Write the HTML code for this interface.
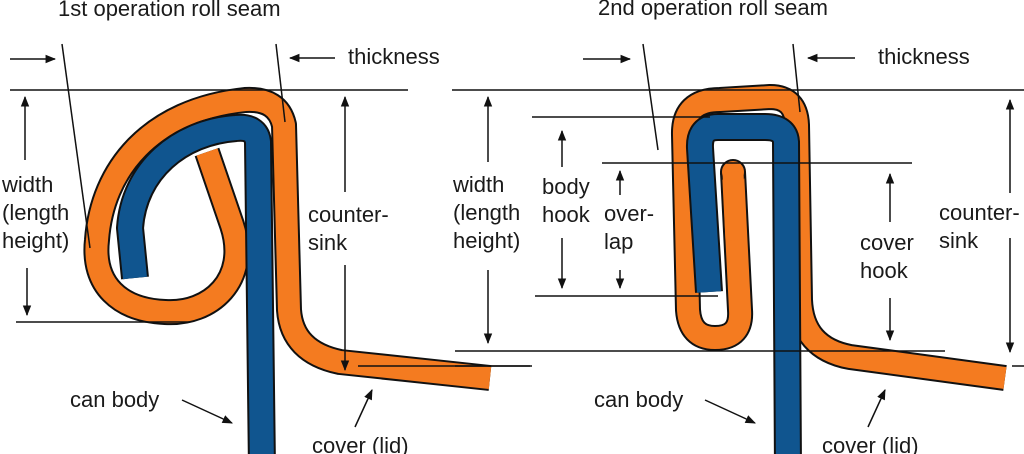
<!DOCTYPE html>
<html><head><meta charset="utf-8"><style>
html,body{margin:0;padding:0;background:#fff;}
svg{display:block}
text{font-family:"Liberation Sans",sans-serif;font-size:22px;fill:#1a1a1a}
</style></head><body>
<svg width="1024" height="454" viewBox="0 0 1024 454" xmlns="http://www.w3.org/2000/svg">
<defs>
<marker id="a" viewBox="0 0 10 10" refX="9" refY="5" markerWidth="7" markerHeight="7" orient="auto"><path d="M0,1 L10,5 L0,9 z" fill="#111"/></marker>
</defs>
<rect width="1024" height="454" fill="#fff"/>
<!-- LEFT seam -->
<g fill="none" stroke-linejoin="round">
<path d="M207,152 L232,225 C250,280 210,315 165,312 C120,310 92,285 97,240 C102,170 150,110 245,100 Q278,98 284,125 L289,310 Q292,352 340,362 L490,378" stroke="#111" stroke-width="26"/>
<path d="M207,152 L232,225 C250,280 210,315 165,312 C120,310 92,285 97,240 C102,170 150,110 245,100 Q278,98 284,125 L289,310 Q292,352 340,362 L490,378" stroke="#f47b20" stroke-width="22"/>
<path d="M262,470 L258,142 Q256,126 236,128 C180,132 134,170 130,228 L135,278" stroke="#111" stroke-width="28"/>
<path d="M262,470 L258,142 Q256,126 236,128 C180,132 134,170 130,228 L135,278" stroke="#10558f" stroke-width="24"/>
</g>
<!-- RIGHT seam -->
<g fill="none" stroke-linejoin="round">
<path d="M733,172 L740,310 Q742,338 715,338 Q690,338 688,310 L684,135 Q683,100 720,100 L770,97 Q796,97 797,125 L800,300 Q802,348 850,357 L1005,378" stroke="#111" stroke-width="26"/>
<path d="M733,172 L740,310 Q742,338 715,338 Q690,338 688,310 L684,135 Q683,100 720,100 L770,97 Q796,97 797,125 L800,300 Q802,348 850,357 L1005,378" stroke="#f47b20" stroke-width="22"/>
<circle cx="733" cy="172" r="12" fill="#f47b20" stroke="#111" stroke-width="2"/>
<path d="M733,172 L736,240" stroke="#f47b20" stroke-width="21"/>
<path d="M788,470 L786,142 Q785,127 765,127 L718,127 Q699,127 700,148 L709,292" stroke="#111" stroke-width="28"/>
<path d="M788,470 L786,142 Q785,127 765,127 L718,127 Q699,127 700,148 L709,292" stroke="#10558f" stroke-width="24"/>
</g>
<!-- lines -->
<g stroke="#111" stroke-width="1.5" fill="none">
<line x1="10" y1="90" x2="408" y2="90"/>
<line x1="16" y1="322" x2="190" y2="322"/>
<line x1="62" y1="44" x2="90" y2="248"/>
<line x1="276" y1="44" x2="285" y2="122"/>
<line x1="358" y1="366" x2="530" y2="366"/>
<line x1="10" y1="59" x2="55" y2="59" marker-end="url(#a)"/>
<line x1="335" y1="58" x2="290" y2="58" marker-end="url(#a)"/>
<line x1="25" y1="160" x2="25" y2="97" marker-end="url(#a)"/>
<line x1="27" y1="268" x2="27" y2="315" marker-end="url(#a)"/>
<line x1="345" y1="192" x2="345" y2="97" marker-end="url(#a)"/>
<line x1="345" y1="265" x2="345" y2="370" marker-end="url(#a)"/>
<line x1="182" y1="400" x2="232" y2="423" marker-end="url(#a)"/>
<line x1="355" y1="427" x2="372" y2="390" marker-end="url(#a)"/>
<line x1="452" y1="90" x2="1024" y2="90"/>
<line x1="532" y1="117" x2="710" y2="117"/>
<line x1="602" y1="163" x2="912" y2="163"/>
<line x1="535" y1="296" x2="718" y2="296"/>
<line x1="455" y1="351" x2="945" y2="351"/>
<line x1="455" y1="366" x2="532" y2="366"/>
<line x1="1012" y1="366" x2="1024" y2="366"/>
<line x1="643" y1="44" x2="658" y2="150"/>
<line x1="793" y1="44" x2="800" y2="112"/>
<line x1="583" y1="59" x2="630" y2="59" marker-end="url(#a)"/>
<line x1="855" y1="58" x2="808" y2="58" marker-end="url(#a)"/>
<line x1="488" y1="162" x2="488" y2="97" marker-end="url(#a)"/>
<line x1="488" y1="270" x2="488" y2="343" marker-end="url(#a)"/>
<line x1="562" y1="167" x2="562" y2="131" marker-end="url(#a)"/>
<line x1="562" y1="238" x2="562" y2="288" marker-end="url(#a)"/>
<line x1="620" y1="195" x2="620" y2="171" marker-end="url(#a)"/>
<line x1="620" y1="270" x2="620" y2="288" marker-end="url(#a)"/>
<line x1="890" y1="222" x2="890" y2="174" marker-end="url(#a)"/>
<line x1="890" y1="298" x2="890" y2="340" marker-end="url(#a)"/>
<line x1="1010" y1="193" x2="1010" y2="100" marker-end="url(#a)"/>
<line x1="1010" y1="238" x2="1010" y2="352" marker-end="url(#a)"/>
<line x1="705" y1="400" x2="755" y2="423" marker-end="url(#a)"/>
<line x1="868" y1="427" x2="885" y2="390" marker-end="url(#a)"/>
</g>
<!-- text -->
<text x="58" y="16">1st operation roll seam</text>
<text x="348" y="64">thickness</text>
<text x="2" y="192">width</text>
<text x="2" y="220">(length</text>
<text x="2" y="248">height)</text>
<text x="308" y="222">counter-</text>
<text x="308" y="250">sink</text>
<text x="70" y="407">can body</text>
<text x="312" y="453">cover (lid)</text>
<text x="598" y="15">2nd operation roll seam</text>
<text x="878" y="64">thickness</text>
<text x="453" y="192">width</text>
<text x="453" y="220">(length</text>
<text x="453" y="248">height)</text>
<text x="542" y="194">body</text>
<text x="542" y="222">hook</text>
<text x="604" y="221">over-</text>
<text x="604" y="249">lap</text>
<text x="860" y="250">cover</text>
<text x="860" y="278">hook</text>
<text x="939" y="220">counter-</text>
<text x="939" y="248">sink</text>
<text x="594" y="407">can body</text>
<text x="822" y="453">cover (lid)</text>
</svg>
</body></html>
